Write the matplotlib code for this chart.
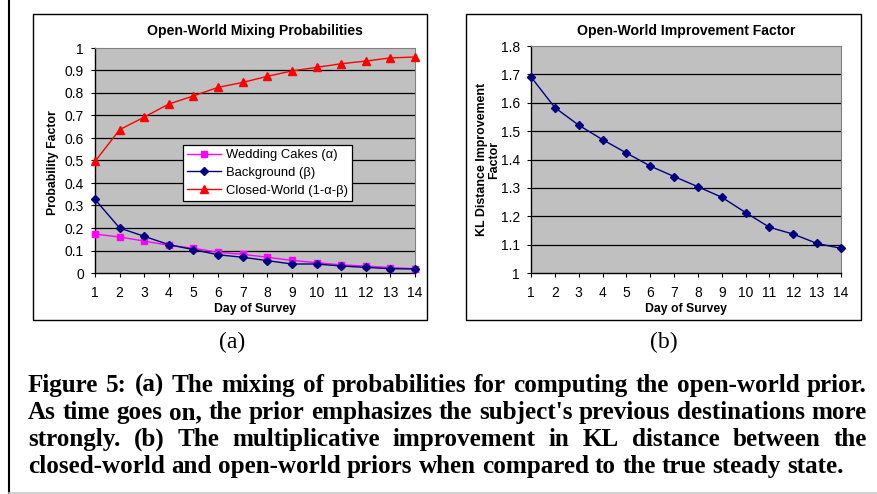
import matplotlib
matplotlib.use("Agg")
import matplotlib.pyplot as plt
from matplotlib.patches import Rectangle
from matplotlib.lines import Line2D
from matplotlib.ticker import FuncFormatter

# data
days = list(range(1, 15))
wedding = [0.173, 0.160, 0.142, 0.123, 0.110, 0.092, 0.083, 0.070, 0.056, 0.046, 0.036, 0.031, 0.024, 0.019]
background = [0.327, 0.200, 0.163, 0.126, 0.104, 0.081, 0.070, 0.055, 0.040, 0.040, 0.031, 0.025, 0.019, 0.018]
closed = [0.496, 0.637, 0.693, 0.751, 0.787, 0.825, 0.847, 0.874, 0.898, 0.914, 0.930, 0.942, 0.956, 0.960]
improvement = [1.691, 1.583, 1.521, 1.470, 1.423, 1.377, 1.340, 1.304, 1.267, 1.213, 1.161, 1.137, 1.104, 1.087]

caption_lines = [
    "Figure 5: (a) The mixing of probabilities for computing the open-world prior.",
    "As time goes on, the prior emphasizes the subject's previous destinations more",
    "strongly. (b) The multiplicative improvement in KL distance between the",
    "closed-world and open-world priors when compared to the true steady state.",
]

W, H = 878, 494
fig = plt.figure(figsize=(W / 100, H / 100), dpi=100)
sans = "Liberation Sans"
serif = "Liberation Serif"


def px_axes(x0, y0, x1, y1):
    return fig.add_axes([x0 / W, 1 - y1 / H, (x1 - x0) / W, (y1 - y0) / H])


def style(ax, ymin, ymax, step):
    ax.set_facecolor("#c0c0c0")
    ax.set_xlim(1, 14)
    ax.set_ylim(ymin, ymax)
    n = int(round((ymax - ymin) / step))
    yt = [ymin + i * step for i in range(n + 1)]
    ax.set_yticks(yt)
    ax.yaxis.set_major_formatter(FuncFormatter(lambda v, p: "%g" % round(v, 2)))
    ax.set_xticks(days)
    for v in yt[1:-1]:
        ax.axhline(v, color="black", lw=0.9, zorder=1)
    for s in ["top", "right"]:
        ax.spines[s].set_color("#808080")
        ax.spines[s].set_linewidth(0.8)
    for s in ["left", "bottom"]:
        ax.spines[s].set_color("black")
        ax.spines[s].set_linewidth(1.0)
    ax.tick_params(direction="out", length=3, width=0.8, labelsize=10)
    ax.tick_params(axis="x", pad=6)
    ax.tick_params(axis="y", pad=5)
    for lab in ax.get_xticklabels() + ax.get_yticklabels():
        lab.set_fontfamily(sans)
    ax.set_xlabel("Day of Survey", fontsize=8.8, fontweight="bold", family=sans)


# panel (a)
ax1 = px_axes(95, 48, 415, 273)
style(ax1, 0, 1, 0.1)
ax1.plot(days, wedding, color="#ff00ff", marker="s", ms=5, lw=1, clip_on=False, zorder=3,
         label="Wedding Cakes (α)")
ax1.plot(days, background, color="#000080", marker="D", ms=4, lw=1, clip_on=False, zorder=3,
         label="Background (β)")
ax1.plot(days, closed, color="#ff0000", marker="^", ms=6, lw=1, clip_on=False, zorder=3,
         label="Closed-World (1-α-β)")
ax1.set_ylabel("Probability Factor", fontsize=8.8, fontweight="bold", family=sans)
ax1.yaxis.set_label_coords(-0.112, 0.49)
ax1.xaxis.set_label_coords(0.5, -0.133)
leg = ax1.legend(loc="lower left", bbox_to_anchor=(0.275, 0.322), frameon=True, fancybox=False,
                 edgecolor="black", framealpha=1, prop={"family": sans, "size": 9.4},
                 handlelength=2.6, handletextpad=0.4, borderpad=0.3, labelspacing=0.42,
                 borderaxespad=0)
leg.get_frame().set_linewidth(0.9)
ax1.set_title("Open-World Mixing Probabilities", fontsize=10.1, fontweight="bold",
              family=sans, pad=9)

# panel (b)
ax2 = px_axes(531, 46, 841, 273)
style(ax2, 1, 1.8, 0.1)
ax2.plot(days, improvement, color="#000080", marker="D", ms=4, lw=1, clip_on=False, zorder=3)
ax2.set_ylabel("KL Distance Improvement\nFactor", fontsize=8.9, fontweight="bold",
               family=sans, linespacing=1.05)
ax2.yaxis.set_label_coords(-0.098, 0.5)
ax2.xaxis.set_label_coords(0.5, -0.132)
ax2.set_title("Open-World Improvement Factor", fontsize=10.1, fontweight="bold",
              family=sans, pad=8)

# panel frames and page border
for x0, x1 in [(33, 427), (466, 861)]:
    fig.patches.append(Rectangle((x0 / W, 1 - 320 / H), (x1 - x0) / W, (320 - 14) / H,
                                 transform=fig.transFigure, fill=False, ec="black", lw=1.0))
fig.lines.append(Line2D([8.5 / W, 8.5 / W], [0, 1], transform=fig.transFigure, color="black", lw=1.5))
fig.lines.append(Line2D([8.5 / W, 1], [1.5 / H, 1.5 / H], transform=fig.transFigure,
                        color="#c8c8c8", lw=1.2))

fig.text(232 / W, 1 - 342 / H, "(a)", ha="center", va="center", family=serif, fontsize=17)
fig.text(664 / W, 1 - 342 / H, "(b)", ha="center", va="center", family=serif, fontsize=17)

# justified caption, font size chosen so the longest line fits the column
renderer = fig.canvas.get_renderer()
x_left, x_right = 28, 867
baselines = [392, 419, 446, 473]
probe = fig.text(0, 0, caption_lines[1], family=serif, fontweight="bold", fontsize=16)
fs = 16 * (x_right - x_left) / probe.get_window_extent(renderer).width
probe.remove()

sp = fig.text(0, 0, "a a", family=serif, fontweight="bold", fontsize=fs)
sp2 = fig.text(0, 0, "aa", family=serif, fontweight="bold", fontsize=fs)
space_w = sp.get_window_extent(renderer).width - sp2.get_window_extent(renderer).width
sp.remove()
sp2.remove()

for i, (line, yb) in enumerate(zip(caption_lines, baselines)):
    words = line.split(" ")
    texts = [fig.text(0, 1 - yb / H, w, ha="left", va="baseline", family=serif,
                      fontweight="bold", fontsize=fs) for w in words]
    widths = [t.get_window_extent(renderer).width for t in texts]
    if i < len(caption_lines) - 1:
        gap = (x_right - x_left - sum(widths)) / (len(words) - 1)
    else:
        gap = space_w
    x = x_left
    for t, w in zip(texts, widths):
        t.set_x(x / W)
        x += w + gap

fig.savefig("out.png", dpi=100)
